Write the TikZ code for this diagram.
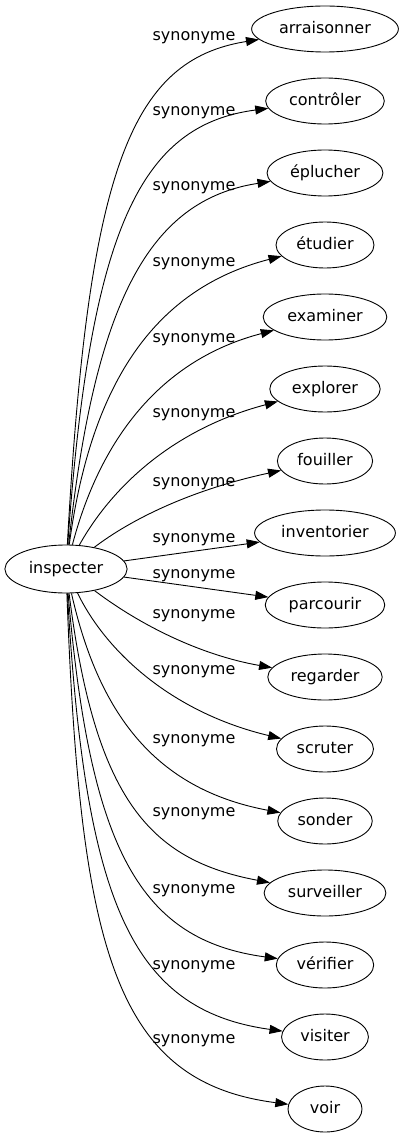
\documentclass[tikz,border=0pt]{standalone}
\usepackage{fontspec}
\setmainfont{DejaVu Sans}
\usetikzlibrary{arrows.meta,shapes.geometric}

\begin{document}
\begin{tikzpicture}[x=1pt, y=-1pt, >={Triangle[length=13pt,width=9pt]}, line width=0.9pt,
  mot/.style={draw, ellipse, inner xsep=6pt, inner ysep=2pt, minimum width=74pt, minimum height=46pt,
    text height=12pt, text depth=3.5pt, font=\fontsize{16}{19}\selectfont},
  rel/.style={inner sep=0pt, font=\fontsize{16}{19}\selectfont}]
  \useasboundingbox (0,0) rectangle (403,1139);
  % mot central
  \node[mot, minimum height=48pt] (inspecter) at (66,569) {inspecter};
  % synonymes
  \node[mot] (arraisonner) at (325,29) {arraisonner};
  \node[mot] (controler) at (325,101) {contrôler};
  \node[mot] (eplucher) at (325,173) {éplucher};
  \node[mot] (etudier) at (325,245) {étudier};
  \node[mot] (examiner) at (325,317) {examiner};
  \node[mot] (explorer) at (325,389) {explorer};
  \node[mot] (fouiller) at (325,461) {fouiller};
  \node[mot] (inventorier) at (325,533) {inventorier};
  \node[mot] (parcourir) at (325,605) {parcourir};
  \node[mot] (regarder) at (325,677) {regarder};
  \node[mot] (scruter) at (325,749) {scruter};
  \node[mot] (sonder) at (325,821) {sonder};
  \node[mot] (surveiller) at (325,893) {surveiller};
  \node[mot] (verifier) at (325,965) {vérifier};
  \node[mot] (visiter) at (325,1037) {visiter};
  \node[mot] (voir) at (325,1109) {voir};
  % liens
  \draw[->] (inspecter) .. controls (88,170) and (130,60) .. (arraisonner);
  \draw[->] (inspecter) .. controls (90,230) and (140,125) .. (controler);
  \draw[->] (inspecter) .. controls (95,300) and (150,200) .. (eplucher);
  \draw[->] (inspecter) .. controls (90,390) and (150,290) .. (etudier);
  \draw[->] (inspecter) .. controls (100,440) and (160,360) .. (examiner);
  \draw[->] (inspecter) .. controls (110,490) and (170,430) .. (explorer);
  \draw[->] (inspecter) .. controls (130,520) and (190,490) .. (fouiller);
  \draw[->] (inspecter) -- (inventorier);
  \draw[->] (inspecter) -- (parcourir);
  \draw[->] (inspecter) .. controls (140,625) and (200,655) .. (regarder);
  \draw[->] (inspecter) .. controls (105,650) and (170,712) .. (scruter);
  \draw[->] (inspecter) .. controls (100,720) and (160,790) .. (sonder);
  \draw[->] (inspecter) .. controls (95,800) and (150,860) .. (surveiller);
  \draw[->] (inspecter) .. controls (90,850) and (140,940) .. (verifier);
  \draw[->] (inspecter) .. controls (85,900) and (130,1010) .. (visiter);
  \draw[->] (inspecter) .. controls (80,950) and (115,1082) .. (voir);
  % etiquettes
  \foreach \y [count=\i] in {38,113,188,264,340,415,484,540,576,616,672,741,814,891,967,1041}
    \node[rel] (syn\i) at (194,\y) {synonyme};
\end{tikzpicture}
\end{document}
